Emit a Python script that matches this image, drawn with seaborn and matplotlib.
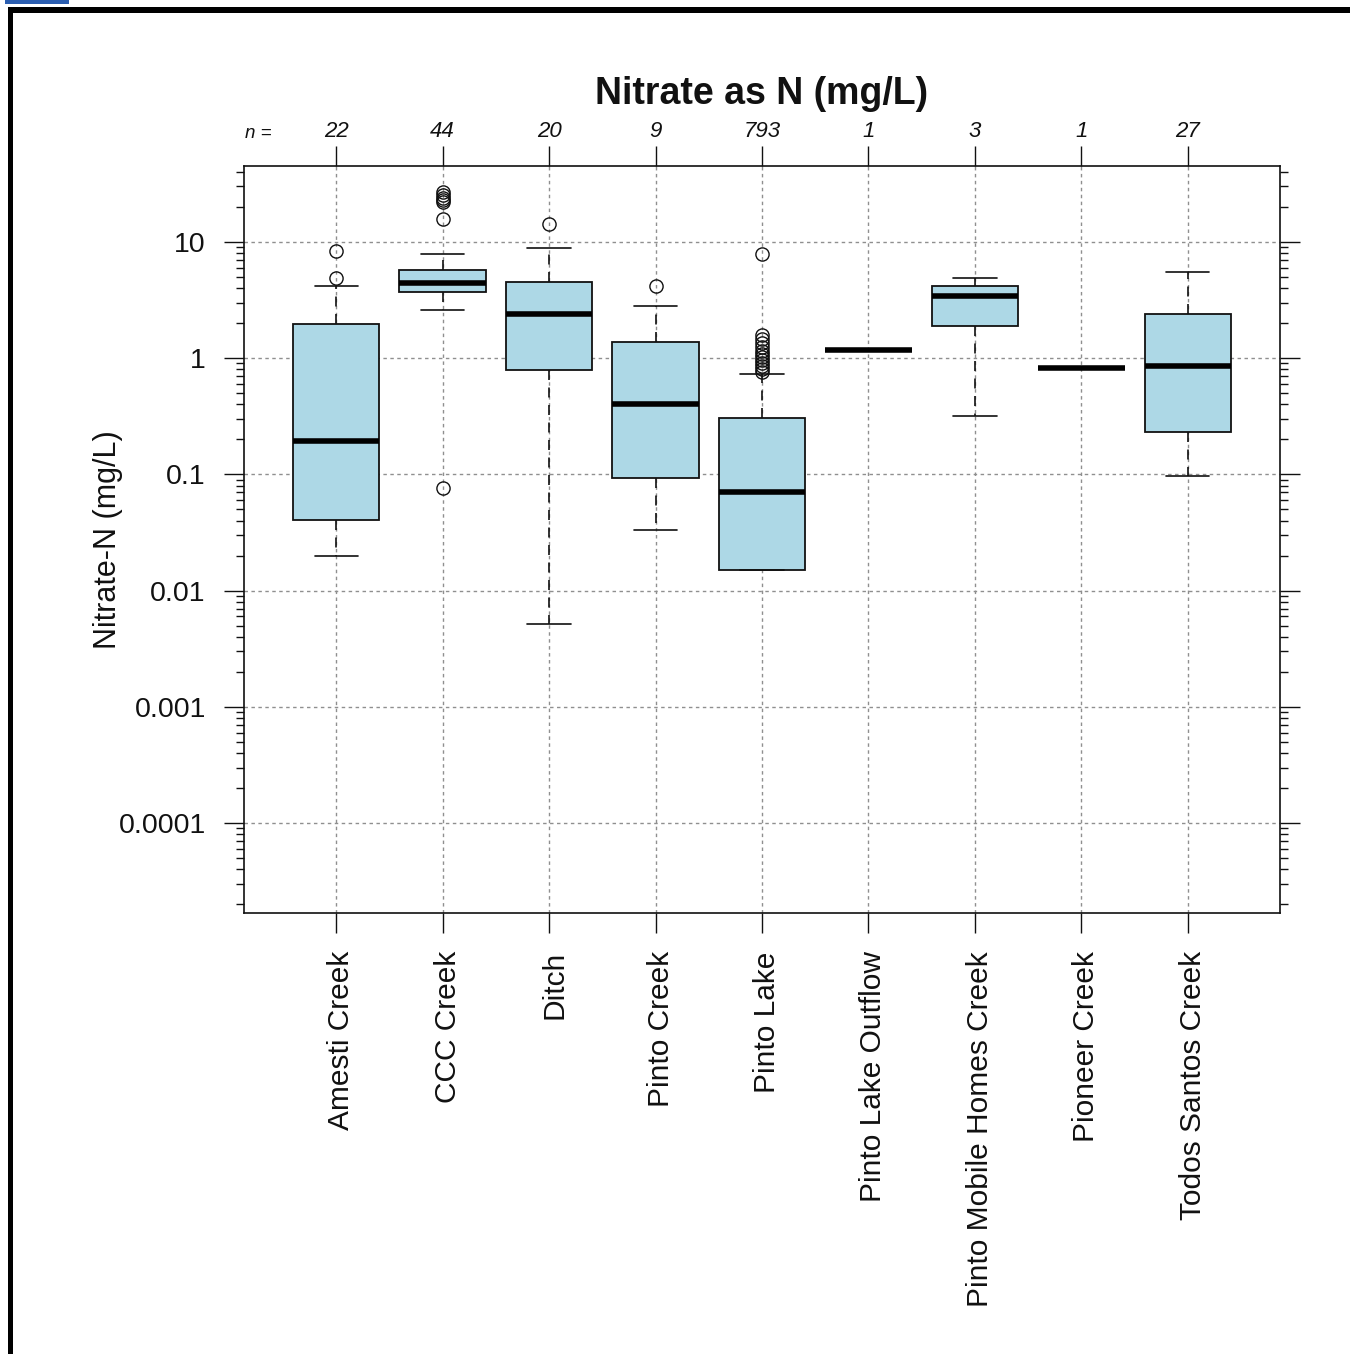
import numpy as np
import pandas as pd
import matplotlib
matplotlib.use("Agg")
import matplotlib.pyplot as plt
import matplotlib.transforms as mtransforms
from matplotlib.patches import Rectangle
from matplotlib.ticker import LogLocator, FixedLocator, NullFormatter
import seaborn as sns

# ---------------- data ----------------
sites = ["Amesti Creek", "CCC Creek", "Ditch", "Pinto Creek", "Pinto Lake",
         "Pinto Lake Outflow", "Pinto Mobile Homes Creek", "Pioneer Creek",
         "Todos Santos Creek"]
n_obs = [22, 44, 20, 9, 793, 1, 3, 1, 27]
whisker_low = [0.020, 2.6, 0.0052, 0.0334, 0.0151, 1.18, 0.32, 0.83, 0.097]
q1 = [0.0407, 3.72, 0.79, 0.093, 0.0151, 1.18, 1.9, 0.83, 0.232]
median = [0.195, 4.44, 2.40, 0.405, 0.0708, 1.18, 3.43, 0.83, 0.858]
q3 = [1.97, 5.74, 4.53, 1.38, 0.307, 1.18, 4.19, 0.83, 2.40]
whisker_high = [4.19, 7.9, 8.9, 2.82, 0.733, 1.18, 4.9, 0.83, 5.52]
outliers = [
    [8.4, 4.9],
    [27.0, 25.5, 24.0, 23.0, 22.0, 15.6, 0.077],
    [14.3],
    [4.2],
    [7.9, 1.58, 1.45, 1.35, 1.25, 1.15, 1.08, 1.02, 0.96, 0.90, 0.85, 0.80, 0.76],
    [],
    [],
    [],
    [],
]
title = "Nitrate as N (mg/L)"
ylabel = "Nitrate-N (mg/L)"
ytick_vals = [0.0001, 0.001, 0.01, 0.1, 1, 10]
ytick_labels = ["0.0001", "0.001", "0.01", "0.1", "1", "10"]

# ---------------- style ----------------
sns.set_style("white")
plt.rcParams["font.family"] = ["Liberation Sans", "DejaVu Sans"]
ink = "#111111"
plt.rcParams["text.color"] = ink
plt.rcParams["axes.labelcolor"] = ink
plt.rcParams["xtick.color"] = ink
plt.rcParams["ytick.color"] = ink

W, H = 1350, 1354
fig = plt.figure(figsize=(W / 100, H / 100), dpi=100)
fig.patch.set_facecolor("white")

# page frame from the screenshot
fig.add_artist(Rectangle((8 / W, 0), 5 / W, 1 - 7 / H, transform=fig.transFigure,
                         facecolor="black", edgecolor="none"))
fig.add_artist(Rectangle((8 / W, 1 - 13 / H), 1 - 8 / W, 6 / H, transform=fig.transFigure,
                         facecolor="black", edgecolor="none"))
fig.add_artist(Rectangle((5 / W, 1 - 4 / H), 64 / W, 4 / H, transform=fig.transFigure,
                         facecolor="#2a5db0", edgecolor="none"))

left, right, top, bottom = 244, 1280, 166, 913
ax = fig.add_axes([left / W, 1 - bottom / H, (right - left) / W, (bottom - top) / H])

stats = []
for i, s in enumerate(sites):
    stats.append(dict(label=s, whislo=whisker_low[i], q1=q1[i], med=median[i],
                      q3=q3[i], whishi=whisker_high[i], fliers=outliers[i]))

positions = np.arange(len(sites))
ax.bxp(stats, positions=positions, widths=0.81, patch_artist=True,
       capwidths=0.405,
       boxprops=dict(facecolor="#ADD8E6", edgecolor=ink, linewidth=1.3),
       medianprops=dict(color="black", linewidth=4.0, solid_capstyle="butt"),
       whiskerprops=dict(color=ink, linewidth=1.2, linestyle=(0, (6, 4.5))),
       capprops=dict(color=ink, linewidth=1.2),
       flierprops=dict(marker="o", markerfacecolor="none", markeredgecolor=ink,
                       markersize=9.5, markeredgewidth=1.0, linestyle="none"),
       zorder=3)

ax.set_yscale("log")
ax.set_ylim(10 ** -4.774, 10 ** 1.653)
ax.set_xlim(-0.865, 8.865)

# ticks
ax.yaxis.set_major_locator(FixedLocator(ytick_vals))
ax.set_yticklabels(ytick_labels)
ax.yaxis.set_minor_locator(LogLocator(base=10, subs=np.arange(2, 10), numticks=20))
ax.yaxis.set_minor_formatter(NullFormatter())
ax.set_xticks(positions)
ax.set_xticklabels(sites, rotation=90, va="top", ha="center")
ax.tick_params(axis="y", which="major", direction="out", length=14.5, width=1.0,
               labelsize=20.5, pad=13, left=True, right=True, labelright=False)
ax.tick_params(axis="y", which="minor", direction="out", length=5.5, width=1.0,
               left=True, right=True)
ax.tick_params(axis="x", which="major", direction="out", length=14.5, width=1.0,
               labelsize=21.5, pad=13, bottom=True, top=False)
shift = mtransforms.ScaledTranslation(5 / 100, 0, fig.dpi_scale_trans)
for lab in ax.get_xticklabels():
    lab.set_transform(lab.get_transform() + shift)

for sp in ax.spines.values():
    sp.set_visible(True)
    sp.set_color(ink)
    sp.set_linewidth(1.2)

# grid
ax.grid(True, which="major", axis="both", color="#8f8f8f", linestyle=(0, (2.5, 2.5)),
        linewidth=1.0, zorder=0)
ax.set_axisbelow(True)

# top axis with group sizes
sec = ax.secondary_xaxis("top")
sec.set_xticks(positions)
sec.set_xticklabels([str(n) for n in n_obs], fontstyle="italic", fontsize=16)
sec.tick_params(direction="out", length=14.5, width=1.0, pad=3, top=True)
sec.spines["top"].set_visible(False)
fig.text(258 / W, 1 - 133 / H, "n =", fontstyle="italic", fontsize=13.5,
         ha="center", va="center")

ax.set_ylabel(ylabel, fontsize=22)
ax.yaxis.set_label_coords(-0.117, 0.5)
fig.text((left + right) / 2 / W, 1 - 94 / H, title, fontsize=27, fontweight="bold",
         ha="center", va="center")

fig.savefig("out.png", dpi=100, facecolor="white")
